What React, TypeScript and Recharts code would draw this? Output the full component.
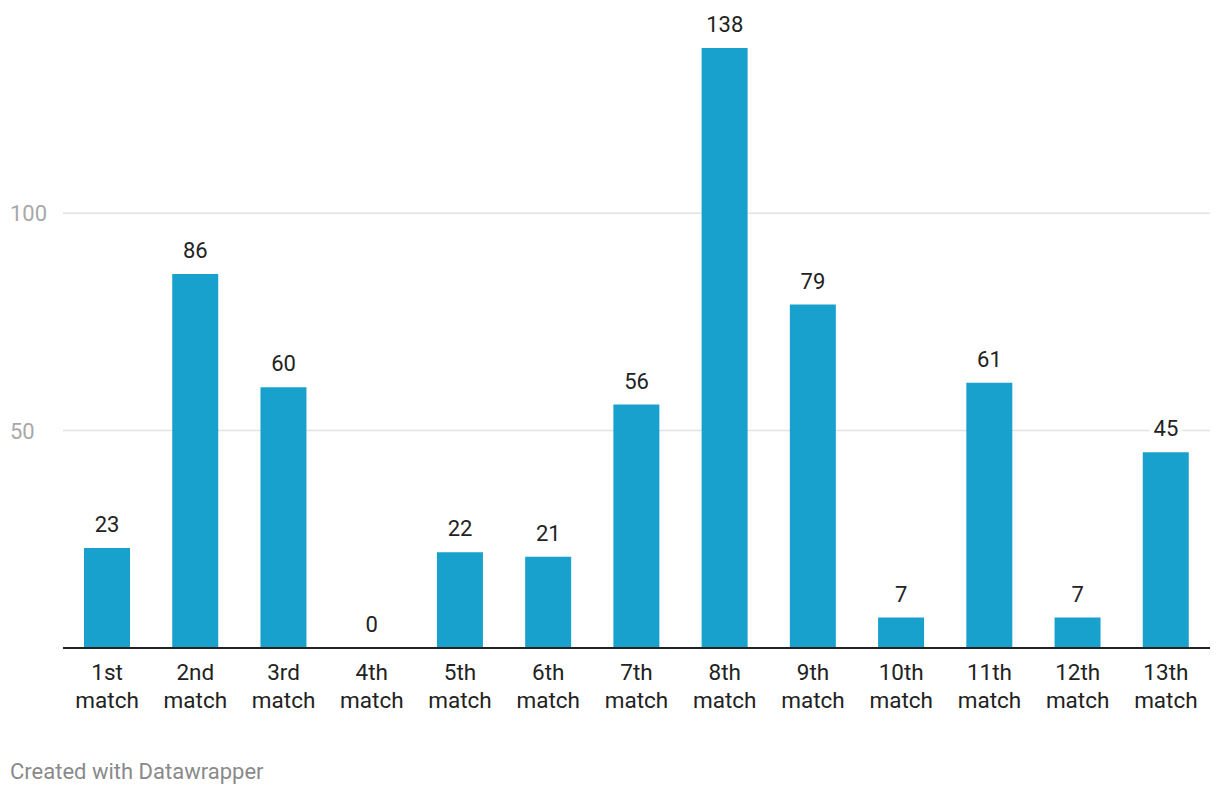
import React from "react";
import { ComposedChart, Bar, Line, XAxis, YAxis, CartesianGrid, LabelList } from "recharts";

const categories = ["1st match", "2nd match", "3rd match", "4th match", "5th match", "6th match", "7th match", "8th match", "9th match", "10th match", "11th match", "12th match", "13th match"];
const values = [23, 86, 60, 0, 22, 21, 56, 138, 79, 7, 61, 7, 45];
const yTicks = [50, 100];

const data = categories.map((c, i) => ({ name: c, value: values[i] }));

const FONT = "Roboto, 'Noto Sans', sans-serif";

const XTick = (props: any) => {
  const { x, y, payload } = props;
  const parts = String(payload.value).split(" ");
  return (
    <g>
      <text x={x} y={y + 24} textAnchor="middle" fontSize={22.5} fill="#222" fontFamily={FONT}>{parts[0]}</text>
      <text x={x} y={y + 52} textAnchor="middle" fontSize={22.5} fill="#222" fontFamily={FONT}>{parts[1]}</text>
    </g>
  );
};

const YTick = (props: any) => {
  const { y, payload } = props;
  return (
    <text x={10} y={y + 8} textAnchor="start" fontSize={22} fill="#a8a8a8" fontFamily={FONT}>{payload.value}</text>
  );
};

const ValueLabel = (props: any) => {
  const { x, y, value } = props;
  const cx = x;
  const w = String(value).length * 12.5 + 8;
  return (
    <g>
      <rect x={cx - w / 2} y={y - 36} width={w} height={24} fill="#fff" />
      <text x={cx} y={y - 16} textAnchor="middle" fontSize={22} fill="#222" fontFamily={FONT}>{value}</text>
    </g>
  );
};

const gridGen = (args: any) => {
  const yAxis = args.yAxis;
  const scale = yAxis && yAxis.scale;
  if (scale) {
    const fn = typeof scale === "function" ? scale : scale.map ? (v: number) => scale.map(v) : null;
    if (fn) return yTicks.map((t) => fn(t));
  }
  return [];
};

export default function App() {
  return (
    <div style={{ position: "absolute", left: 0, top: 0, width: 1220, height: 796, background: "#fff", fontFamily: FONT }}>
      <ComposedChart width={1220} height={740} data={data} margin={{ top: 48, right: 10, left: 0, bottom: 0 }} barSize={46}>
        <CartesianGrid vertical={false} stroke="#e2e2e2" strokeWidth={1.5} horizontalCoordinatesGenerator={gridGen} />
        <YAxis
          width={63}
          domain={[0, 138]}
          ticks={yTicks}
          axisLine={false}
          tickLine={false}
          tick={<YTick />}
          allowDataOverflow
        />
        <XAxis
          dataKey="name"
          height={92}
          interval={0}
          tickLine={false}
          axisLine={{ stroke: "#222", strokeWidth: 2 }}
          tick={<XTick />}
        />
        <Bar dataKey="value" fill="#18a1cd" isAnimationActive={false} />
        <Line dataKey="value" stroke="none" dot={false} activeDot={false} isAnimationActive={false}>
          <LabelList dataKey="value" content={<ValueLabel />} />
        </Line>
      </ComposedChart>
      <div style={{ position: "absolute", left: 10, top: 759, fontSize: 22, color: "#8a8a8a", fontFamily: FONT, whiteSpace: "nowrap" }}>
        Created with Datawrapper
      </div>
    </div>
  );
}
